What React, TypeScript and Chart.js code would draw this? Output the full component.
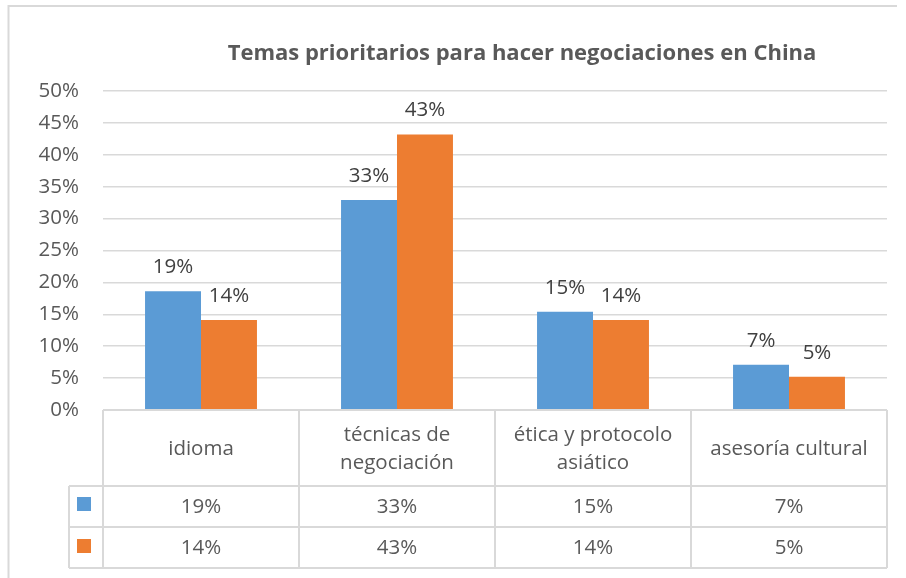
import React, { useEffect, useRef } from "react";
import { Chart, registerables } from "chart.js";

Chart.register(...registerables);

const TITLE = "Temas prioritarios para hacer negociaciones en China";
const categories: string[][] = [
  ["idioma"],
  ["técnicas de", "negociación"],
  ["ética y protocolo", "asiático"],
  ["asesoría cultural"],
];
const seriesBlue = [18.6, 32.9, 15.4, 7.1];
const seriesOrange = [14.1, 43.2, 14.1, 5.2];
const yTicksMax = 50;
const yTicksStep = 5;

const BLUE = "#5B9BD5";
const ORANGE = "#ED7D31";
const GRID = "#d9d9d9";
const TEXT = "#595959";
const FONT = "'Open Sans', 'Noto Sans', sans-serif";
const FS = 20.5;

const pct = (v: number) => Math.round(v) + "%";

export default function App() {
  const ref = useRef<HTMLCanvasElement | null>(null);

  useEffect(() => {
    document.body.style.margin = "0";
    const canvas = ref.current;
    if (!canvas) return;

    const frame = {
      id: "frame",
      beforeDraw(chart: any) {
        const ctx = chart.ctx;
        ctx.save();
        ctx.fillStyle = "#ffffff";
        ctx.fillRect(0, 0, chart.width, chart.height);
        ctx.strokeStyle = GRID;
        ctx.lineWidth = 2;
        ctx.beginPath();
        ctx.moveTo(8.5, 578);
        ctx.lineTo(8.5, 6);
        ctx.lineTo(897, 6);
        ctx.stroke();
        ctx.font = "bold 22px " + FONT;
        ctx.fillStyle = TEXT;
        ctx.textAlign = "center";
        ctx.textBaseline = "middle";
        ctx.fillText(TITLE, 522, 53.5);
        ctx.restore();
      },
    };

    const labels = {
      id: "barLabels",
      afterDatasetsDraw(chart: any) {
        const ctx = chart.ctx;
        ctx.save();
        ctx.font = FS + "px " + FONT;
        ctx.fillStyle = "#404040";
        ctx.textAlign = "center";
        ctx.textBaseline = "middle";
        chart.data.datasets.forEach((ds: any, di: number) => {
          const meta = chart.getDatasetMeta(di);
          meta.data.forEach((bar: any, i: number) => {
            ctx.fillText(pct(ds.data[i]), bar.x, bar.y - 24);
          });
        });
        ctx.restore();
      },
    };

    const table = {
      id: "dataTable",
      afterDraw(chart: any) {
        const ctx = chart.ctx;
        const xs = chart.scales.x;
        const area = chart.chartArea;
        const top = area.bottom;
        const r1 = 486;
        const r2 = 527;
        const bottom = 568;
        const keyLeft = 69;
        const n = categories.length;
        const cw = (area.right - area.left) / n;
        ctx.save();
        ctx.strokeStyle = GRID;
        ctx.lineWidth = 2;
        ctx.beginPath();
        ctx.moveTo(area.left, top);
        ctx.lineTo(area.right, top);
        [r1, r2, bottom].forEach((y) => {
          ctx.moveTo(keyLeft, y);
          ctx.lineTo(area.right, y);
        });
        ctx.moveTo(keyLeft, r1);
        ctx.lineTo(keyLeft, bottom);
        for (let i = 0; i <= n; i++) {
          const x = i < n ? xs.getPixelForValue(i) - cw / 2 : xs.getPixelForValue(n - 1) + cw / 2;
          ctx.moveTo(x, top);
          ctx.lineTo(x, bottom);
        }
        ctx.stroke();

        ctx.font = FS + "px " + FONT;
        ctx.fillStyle = TEXT;
        ctx.textAlign = "center";
        ctx.textBaseline = "middle";
        const headMid = (top + r1) / 2 + 1;
        categories.forEach((lines, i) => {
          const cx = xs.getPixelForValue(i);
          const lh = 28;
          const y0 = headMid - ((lines.length - 1) * lh) / 2;
          lines.forEach((t, k) => ctx.fillText(t, cx, y0 + k * lh));
          ctx.fillText(pct(seriesBlue[i]), cx, (r1 + r2) / 2 + 1);
          ctx.fillText(pct(seriesOrange[i]), cx, (r2 + bottom) / 2 + 1);
        });
        ctx.fillStyle = BLUE;
        ctx.fillRect(77, 497, 14, 14);
        ctx.fillStyle = ORANGE;
        ctx.fillRect(77, 539, 14, 14);
        ctx.restore();
      },
    };

    const chart = new Chart(canvas, {
      type: "bar",
      data: {
        labels: categories.map((c) => c.join(" ")),
        datasets: [
          { label: "Serie 1", data: seriesBlue, backgroundColor: BLUE, borderWidth: 0 },
          { label: "Serie 2", data: seriesOrange, backgroundColor: ORANGE, borderWidth: 0 },
        ],
      },
      options: {
        animation: false,
        responsive: false,
        maintainAspectRatio: false,
        layout: { padding: { left: 0, right: 19, top: 91, bottom: 168 } },
        datasets: { bar: { categoryPercentage: 0.571, barPercentage: 1 } },
        plugins: {
          legend: { display: false },
          tooltip: { enabled: false },
          title: { display: false },
        },
        scales: {
          x: { display: false },
          y: {
            min: 0,
            max: yTicksMax,
            border: { display: false },
            grid: { color: GRID, lineWidth: 1.5, drawTicks: false },
            ticks: {
              stepSize: yTicksStep,
              padding: 24,
              color: TEXT,
              font: { family: FONT, size: FS },
              callback: (v: any) => v + "%",
            },
            afterFit: (s: any) => {
              s.width = 103;
            },
          },
        },
      },
      plugins: [frame, labels, table],
    });
    return () => chart.destroy();
  }, []);

  return (
    <div style={{ position: "absolute", left: 0, top: 0, width: 906, height: 578 }}>
      <canvas ref={ref} width={906} height={578} style={{ width: 906, height: 578, display: "block" }} />
    </div>
  );
}
